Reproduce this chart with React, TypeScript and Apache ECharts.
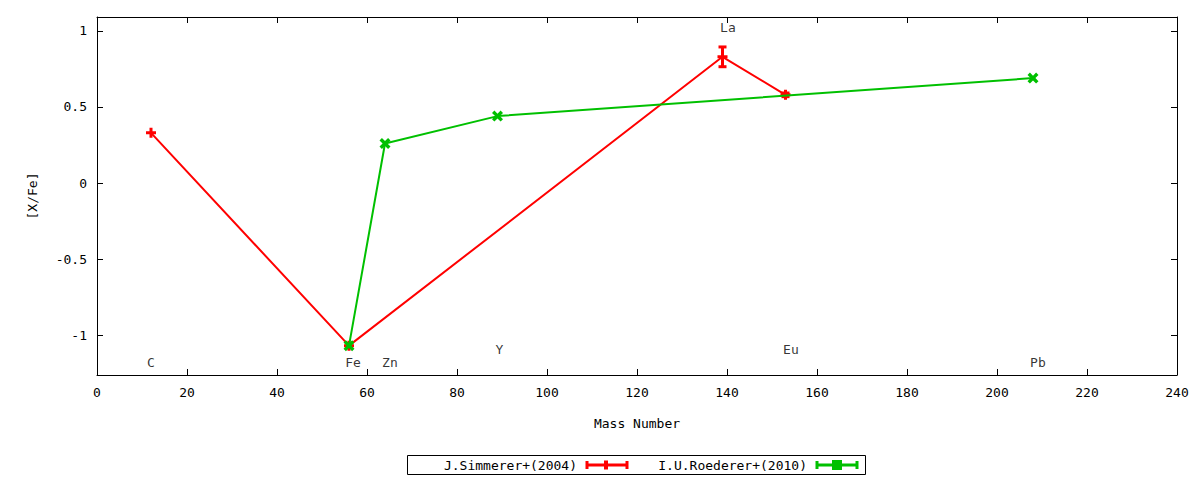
import React, { useEffect, useRef } from "react";
import * as echarts from "echarts";

const FONT = "DejaVu Sans Mono";

// J.Simmerer+(2004)
const simMass = [12, 56, 139, 153];
const simVal = [0.33, -1.07, 0.83, 0.58];
const simErr = [0, 0, 0.065, 0.012];

// I.U.Roederer+(2010)
const roeMass = [56, 64, 89, 208];
const roeVal = [-1.07, 0.26, 0.44, 0.69];
const roeErr = [0, 0, 0, 0];

// element labels
const labelNames = ["C", "Fe", "Zn", "Y", "La", "Eu", "Pb"];
const labelX = [12, 56.9, 65.1, 89.4, 140.2, 154.2, 209.1];
const labelY = [-1.184, -1.184, -1.184, -1.092, 1.026, -1.092, -1.184];

const xTicks = { min: 0, max: 240, interval: 20 };
const yRange = { min: -1.263, max: 1.092 };

const RED = "#ff0000";
const GREEN = "#00c000";

const PLUS = "path://M3.5,0H6.5V3.5H10V6.5H6.5V10H3.5V6.5H0V3.5H3.5Z";
const CROSS =
  "path://M0,2.2L2.2,0L5,2.8L7.8,0L10,2.2L7.2,5L10,7.8L7.8,10L5,7.2L2.2,10L0,7.8L2.8,5Z";

function errRender(color: string) {
  return (params: any, api: any) => {
    const x = api.value(0);
    const y = api.value(1);
    const e = api.value(2);
    if (!e) return { type: "group", children: [] };
    const t = api.coord([x, y + e]);
    const b = api.coord([x, y - e]);
    const st = { stroke: color, lineWidth: 3 };
    return {
      type: "group",
      children: [
        { type: "line", shape: { x1: t[0], y1: t[1], x2: b[0], y2: b[1] }, style: st },
        { type: "line", shape: { x1: t[0] - 4, y1: t[1], x2: t[0] + 4, y2: t[1] }, style: st },
        { type: "line", shape: { x1: b[0] - 4, y1: b[1], x2: b[0] + 4, y2: b[1] }, style: st },
      ],
    };
  };
}

export default function App() {
  const ref = useRef<HTMLDivElement>(null);
  useEffect(() => {
    const chart = echarts.init(ref.current!, null, { renderer: "svg" });
    const axisCommon = {
      axisLine: { show: true, onZero: false, lineStyle: { color: "#000", width: 1 } },
      axisTick: { show: true, inside: true, length: 6, lineStyle: { color: "#000" } },
      splitLine: { show: false },
    };
    const textStyle = { fontFamily: FONT, fontSize: 13, color: "#000" };
    const legendY = 465;
    const legendItems = (x0: number, x1: number, color: string) => [
      { type: "line", shape: { x1: x0, y1: legendY, x2: x1, y2: legendY }, style: { stroke: color, lineWidth: 3 } },
      { type: "line", shape: { x1: x0, y1: legendY - 4, x2: x0, y2: legendY + 4 }, style: { stroke: color, lineWidth: 3 } },
      { type: "line", shape: { x1: x1, y1: legendY - 4, x2: x1, y2: legendY + 4 }, style: { stroke: color, lineWidth: 3 } },
    ];
    chart.setOption({
      animation: false,
      backgroundColor: "#fff",
      grid: { left: 97, right: 23, top: 17, bottom: 105, containLabel: false },
      xAxis: [
        {
          type: "value",
          position: "bottom",
          min: xTicks.min,
          max: xTicks.max,
          interval: xTicks.interval,
          ...axisCommon,
          axisLabel: { ...textStyle, margin: 11 },
          name: "Mass Number",
          nameLocation: "middle",
          nameGap: 42,
          nameTextStyle: textStyle,
        },
        {
          type: "value",
          position: "top",
          min: xTicks.min,
          max: xTicks.max,
          interval: xTicks.interval,
          ...axisCommon,
          axisLabel: { show: false },
        },
      ],
      yAxis: [
        {
          type: "value",
          position: "left",
          min: yRange.min,
          max: yRange.max,
          splitNumber: 5,
          ...axisCommon,
          axisLabel: {
            ...textStyle,
            margin: 10,
            showMinLabel: false,
            showMaxLabel: false,
            formatter: (v: number) =>
              Math.abs(v * 2 - Math.round(v * 2)) < 1e-6 ? String(Math.round(v * 2) / 2) : "",
          },
          name: "[X/Fe]",
          nameLocation: "middle",
          nameGap: 58,
          nameTextStyle: textStyle,
        },
        {
          type: "value",
          position: "right",
          min: yRange.min,
          max: yRange.max,
          splitNumber: 5,
          ...axisCommon,
          axisLabel: { show: false },
        },
      ],
      series: [
        {
          type: "line",
          name: "J.Simmerer+(2004)",
          data: simMass.map((m, i) => [m, simVal[i]]),
          lineStyle: { color: RED, width: 2 },
          itemStyle: { color: RED },
          symbol: PLUS,
          symbolSize: 10,
          z: 2,
        },
        {
          type: "custom",
          renderItem: errRender(RED),
          data: simMass.map((m, i) => [m, simVal[i], simErr[i]]),
          encode: { x: 0, y: 1 },
          z: 3,
        },
        {
          type: "line",
          name: "I.U.Roederer+(2010)",
          data: roeMass.map((m, i) => [m, roeVal[i]]),
          lineStyle: { color: GREEN, width: 2 },
          itemStyle: { color: GREEN },
          symbol: CROSS,
          symbolSize: 11,
          z: 4,
        },
        {
          type: "custom",
          renderItem: errRender(GREEN),
          data: roeMass.map((m, i) => [m, roeVal[i], roeErr[i]]),
          encode: { x: 0, y: 1 },
          z: 5,
        },
        {
          type: "scatter",
          symbolSize: 0,
          data: labelNames.map((n, i) => ({ value: [labelX[i], labelY[i]], name: n })),
          label: {
            show: true,
            position: "inside",
            formatter: (p: any) => p.name,
            fontFamily: FONT,
            fontSize: 13,
            color: "#000",
            textBorderWidth: 0,
          },
          itemStyle: { color: "#000" },
          silent: true,
          z: 6,
        },
      ],
      graphic: [
        {
          type: "rect",
          shape: { x: 407.5, y: 455.5, width: 458, height: 19 },
          style: { fill: "#fff", stroke: "#000", lineWidth: 1 },
        },
        {
          type: "text",
          x: 577,
          y: legendY,
          style: { text: "J.Simmerer+(2004)", align: "right", verticalAlign: "middle", font: `13px '${FONT}'`, fill: "#000" },
        },
        ...legendItems(587, 627, RED),
        {
          type: "rect",
          shape: { x: 604, y: legendY - 4.5, width: 4, height: 9 },
          style: { fill: RED },
        },
        {
          type: "text",
          x: 807,
          y: legendY,
          style: { text: "I.U.Roederer+(2010)", align: "right", verticalAlign: "middle", font: `13px '${FONT}'`, fill: "#000" },
        },
        ...legendItems(817, 857, GREEN),
        {
          type: "rect",
          shape: { x: 832, y: legendY - 5, width: 10, height: 10 },
          style: { fill: GREEN },
        },
      ],
    });
    return () => chart.dispose();
  }, []);
  return (
    <div
      ref={ref}
      style={{ position: "absolute", left: 0, top: 0, width: 1200, height: 480 }}
    />
  );
}
